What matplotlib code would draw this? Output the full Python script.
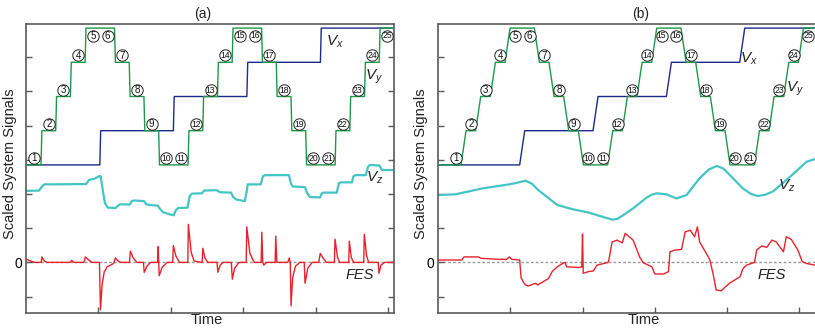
import matplotlib
matplotlib.use("Agg")
from matplotlib import pyplot as plt

plt.rcParams["font.family"] = ["Liberation Sans", "DejaVu Sans"]
plt.rcParams["mathtext.fontset"] = "custom"
plt.rcParams["mathtext.rm"] = "Liberation Sans"
plt.rcParams["mathtext.it"] = "Liberation Sans:italic"

# step positions 1..25 (set-point sequence), duration of one position
POS_DUR = 0.203
vy_levels = [2.85, 3.85, 4.85, 5.85, 6.85, 6.85, 5.85, 4.85, 3.85, 2.85,
             2.85, 3.85, 4.85, 5.85, 6.85, 6.85, 5.85, 4.85, 3.85, 2.85,
             2.85, 3.85, 4.85, 5.85, 6.85]
vx_levels = [2.85, 2.85, 2.85, 2.85, 2.85, 3.85, 3.85, 3.85, 3.85, 3.85,
             4.85, 4.85, 4.85, 4.85, 4.85, 5.85, 5.85, 5.85, 5.85, 5.85,
             6.85, 6.85, 6.85, 6.85, 6.85]
pos_labels = [str(i) for i in range(1, 26)]

# panel (a) Vz
vz_a_t = [0, 0.18, 0.22, 0.25, 0.83, 0.87, 0.95, 1.01, 1.03, 1.06, 1.09, 1.13, 1.24, 1.27, 1.30, 1.43,
          1.46, 1.49, 1.63, 1.66, 1.70, 1.82, 1.85, 1.89, 1.99, 2.04, 2.07, 2.10, 2.23, 2.26, 2.29, 2.43,
          2.46, 2.63, 2.68, 2.83, 2.86, 2.90, 3.02, 3.05, 3.06, 3.24, 3.27, 3.30, 3.63, 3.66, 3.68, 3.85,
          3.88, 3.92, 4.06, 4.08, 4.11, 4.29, 4.32, 4.35, 4.50, 4.52, 4.55, 4.69, 4.72, 4.75, 4.88, 4.91,
          4.95, 5.08]
vz_a_y = [2.09, 2.10, 2.22, 2.28, 2.29, 2.41, 2.45, 2.52, 2.52, 2.11, 1.73, 1.60, 1.59, 1.66, 1.70, 1.69,
          1.79, 1.81, 1.79, 1.70, 1.68, 1.66, 1.56, 1.47, 1.40, 1.38, 1.53, 1.59, 1.60, 1.94, 2.01, 2.02,
          2.10, 2.11, 2.05, 2.04, 1.91, 1.84, 1.79, 2.11, 2.28, 2.28, 2.52, 2.55, 2.55, 2.29, 2.22, 2.20,
          2.03, 1.91, 1.90, 2.01, 2.04, 2.04, 2.32, 2.34, 2.34, 2.52, 2.55, 2.55, 2.79, 2.85, 2.83, 2.71,
          2.70, 2.70]

# panel (a) FES
fes_a_t = [0.00, 0.06, 0.12,
           0.21, 0.22, 0.25, 0.29,
           0.61, 0.63, 0.66,
           0.80, 0.82, 0.86, 0.91,
           1.014, 1.028, 1.05, 1.08, 1.12, 1.21,
           1.234, 1.27, 1.31,
           1.428, 1.441, 1.48, 1.53,
           1.621, 1.632, 1.67, 1.72,
           1.818, 1.825, 1.832, 1.839, 1.88, 1.95,
           2.025, 2.034, 2.07, 2.12,
           2.234, 2.241, 2.28, 2.32,
           2.432, 2.441, 2.47, 2.51,
           2.637, 2.648, 2.68, 2.72,
           2.834, 2.848, 2.88, 2.94,
           3.039, 3.048, 3.09, 3.15,
           3.246, 3.255, 3.269, 3.283, 3.32,
           3.439, 3.448, 3.462, 3.49,
           3.614, 3.634, 3.648, 3.659, 3.68, 3.72, 3.78,
           3.841, 3.852, 3.89, 3.95,
           4.041, 4.062, 4.10, 4.15,
           4.257, 4.266, 4.30, 4.33,
           4.455, 4.463, 4.49, 4.52,
           4.662, 4.670, 4.70, 4.73,
           4.862, 4.873, 4.90, 4.95, 5.08]
fes_a_y = [0.10, 0.04, 0.00,
           0.00, 0.16, 0.05, 0.00,
           0.00, 0.06, 0.00,
           0.00, 0.16, 0.08, 0.00,
           0.00, -1.39, -0.66, -0.28, -0.13, -0.03,
           0.13, 0.04, 0.00,
           0.00, 0.33, 0.13, 0.00,
           0.00, -0.29, -0.11, 0.00,
           0.00, 0.46, 0.01, -0.39, -0.14, 0.00,
           0.00, 0.49, 0.18, 0.00,
           0.00, 1.11, 0.30, 0.04,
           0.00, 0.41, 0.13, 0.00,
           0.00, -0.29, -0.08, 0.00,
           0.00, -0.49, -0.17, 0.00,
           0.00, 1.04, 0.27, 0.00,
           0.00, 0.88, 0.01, -0.08, 0.00,
           0.00, 0.77, 0.01, 0.00,
           0.00, 0.13, 0.00, -1.27, -0.46, -0.11, 0.00,
           0.00, -0.61, -0.17, 0.00,
           0.00, 0.26, 0.13, 0.00,
           0.00, 0.68, 0.15, 0.00,
           0.00, 0.62, 0.15, 0.00,
           0.00, 0.82, 0.21, 0.00,
           0.00, -0.32, -0.08, 0.00, 0.00]

# panel (b) Vz
vz_b_t = [0.00, 0.03, 0.24, 0.61, 0.98, 1.10, 1.21, 1.30, 1.39, 1.65, 1.85, 2.08, 2.25, 2.41, 2.48,
          2.55, 2.70, 2.89, 2.96, 3.03, 3.16, 3.30, 3.44, 3.62, 3.75, 3.86, 3.95, 4.04, 4.22, 4.33,
          4.43, 4.53, 4.64, 4.87, 5.10, 5.21]
vz_b_y = [1.97, 1.97, 1.99, 2.16, 2.28, 2.33, 2.39, 2.30, 2.11, 1.68, 1.56, 1.46, 1.35, 1.25, 1.27,
          1.36, 1.58, 1.90, 1.98, 2.02, 1.99, 1.87, 1.97, 2.46, 2.72, 2.82, 2.74, 2.55, 2.16, 2.00,
          1.94, 1.98, 2.08, 2.50, 2.94, 3.02]

# panel (b) FES
fes_b_t = [0.00, 0.33, 0.36, 0.56, 0.59, 0.84, 0.95, 0.99, 1.02, 1.13, 1.15, 1.18, 1.21, 1.25, 1.35,
           1.38, 1.53, 1.58, 1.65, 1.74, 1.76, 1.78, 1.95, 1.99, 2.00, 2.01, 2.08, 2.15, 2.20, 2.34,
           2.36, 2.41, 2.48, 2.55, 2.59, 2.70, 2.79, 2.84, 2.96, 3.00, 3.12, 3.19, 3.21, 3.28, 3.37,
           3.42, 3.49, 3.55, 3.59, 3.62, 3.76, 3.81, 3.85, 3.92, 3.98, 4.04, 4.18, 4.22, 4.27, 4.38,
           4.41, 4.48, 4.55, 4.62, 4.68, 4.78, 4.82, 4.89, 4.98, 5.04, 5.10, 5.21]
fes_b_y = [0.07, 0.07, 0.16, 0.16, 0.12, 0.09, 0.09, 0.16, 0.09, 0.07, -0.45, -0.57, -0.66, -0.69, -0.61,
           -0.66, -0.47, -0.27, -0.13, -0.01, -0.01, -0.13, -0.15, -0.13, 0.83, -0.32, -0.27, -0.25, -0.08, -0.01,
           0.02, 0.60, 0.65, 0.57, 0.85, 0.65, 0.16, -0.01, -0.13, -0.34, -0.34, -0.27, 0.31, 0.36, 0.38,
           0.89, 0.94, 0.75, 1.04, 0.60, 0.09, -0.37, -0.81, -0.83, -0.71, -0.60, -0.42, -0.18, -0.08, 0.00,
           0.36, 0.48, 0.44, 0.65, 0.60, 0.31, 0.75, 0.67, 0.36, 0.02, -0.03, -0.08]

C_VX = "#1c2a8c"
C_VY = "#1a9a48"
C_VZ = "#45c4c4"
C_FES = "#e8222c"
C_FRAME = "#5a5a5a"


def staircase(levels, t0, t_end, ramp):
    t = [0.0]
    y = [levels[0]]
    for k in range(1, len(levels)):
        if levels[k] != levels[k - 1]:
            tk = t0 + k * POS_DUR
            t += [tk - ramp / 2, tk + ramp / 2]
            y += [levels[k - 1], levels[k]]
    t.append(t_end)
    y.append(levels[-1])
    return t, y


def draw_panel(ax, t0, t_end, ramp, vz_t, vz_y, fes_t, fes_y, xlim, right_ticks):
    ax.axhline(0, color="#9a9a9a", ls=(0, (2, 1.5)), lw=1.0, zorder=1)
    tx, yx = staircase(vx_levels, t0, t_end, ramp)
    ty, yy = staircase(vy_levels, t0, t_end, ramp)
    ax.plot(tx, yx, color=C_VX, lw=1.0, zorder=2)
    ax.plot(ty, yy, color=C_VY, lw=1.0, zorder=3)
    ax.plot(vz_t, vz_y, color=C_VZ, lw=1.6, zorder=2)
    ax.plot(fes_t, fes_y, color=C_FES, lw=1.0, zorder=3)

    top = max(vy_levels)
    for k, (lev, lab) in enumerate(zip(vy_levels, pos_labels)):
        xc = t0 + (k + 0.5) * POS_DUR
        yc = lev - 0.22 if lev == top else lev + 0.2
        ax.plot(xc, yc, "o", ms=8.2, mfc="white", mec="#222222", mew=0.7, zorder=5)
        ax.text(xc, yc - 0.01, lab, ha="center", va="center", fontsize=7 if len(lab) == 1 else 6.2,
                zorder=6, color="#111111")

    ax.set_xlim(*xlim)
    ax.set_ylim(-1.48, 6.97)
    ax.set_xticks([1, 2, 3, 4, 5])
    ax.set_xticklabels([])
    ax.set_yticks(range(-1, 7))
    ax.set_yticklabels(["", "0", "", "", "", "", "", ""])
    ax.tick_params(direction="in", length=4, width=1.0, color=C_FRAME, labelsize=10, pad=3,
                   right=right_ticks)
    for sp in ax.spines.values():
        sp.set_color(C_FRAME)
        sp.set_linewidth(1.2)


fig = plt.figure(figsize=(8.15, 3.3), dpi=100)
ax_a = fig.add_axes([26 / 815, 17 / 330, 368 / 815, 289 / 330])
ax_b = fig.add_axes([438 / 815, 17 / 330, 383 / 815, 289 / 330])

draw_panel(ax_a, 0.01, 5.08, 0.012, vz_a_t, vz_a_y, fes_a_t, fes_a_y, (0, 5.08), True)
draw_panel(ax_b, 0.15, 5.3, 0.07, vz_b_t, vz_b_y, fes_b_t, fes_b_y, (0, 5.3), False)

lab_kw = dict(fontsize=11, ha="center", va="center", color="#222222")
ax_a.text(4.26, 6.44, "$V_x$", **lab_kw)
ax_a.text(4.80, 5.42, "$V_y$", **lab_kw)
ax_a.text(4.81, 2.46, "$V_z$", **lab_kw)
ax_a.text(4.61, -0.37, "FES", fontsize=10.5, style="italic", ha="center", va="center", color="#222222")
ax_b.text(4.30, 5.94, "$V_x$", **lab_kw)
ax_b.text(4.94, 5.07, "$V_y$", **lab_kw)
ax_b.text(4.83, 2.23, "$V_z$", **lab_kw)
ax_b.text(4.62, -0.37, "FES", fontsize=10.5, style="italic", ha="center", va="center", color="#222222")

fig.text(202.5 / 815, 1 - 14 / 330, "(a)", fontsize=10, ha="center", va="center", color="#222222")
fig.text(641 / 815, 1 - 14 / 330, "(b)", fontsize=10, ha="center", va="center", color="#222222")
fig.text(207 / 815, 1 - 320 / 330, "Time", fontsize=10.5, ha="center", va="center", color="#222222")
fig.text(644 / 815, 1 - 320 / 330, "Time", fontsize=10.5, ha="center", va="center", color="#222222")
fig.text(10 / 815, 1 - 164 / 330, "Scaled System Signals", fontsize=10.5, rotation=90,
         ha="center", va="center", color="#222222")
fig.text(421 / 815, 1 - 164 / 330, "Scaled System Signals", fontsize=10.5, rotation=90,
         ha="center", va="center", color="#222222")

fig.savefig("out.png", dpi=100)
plt.close(fig)
